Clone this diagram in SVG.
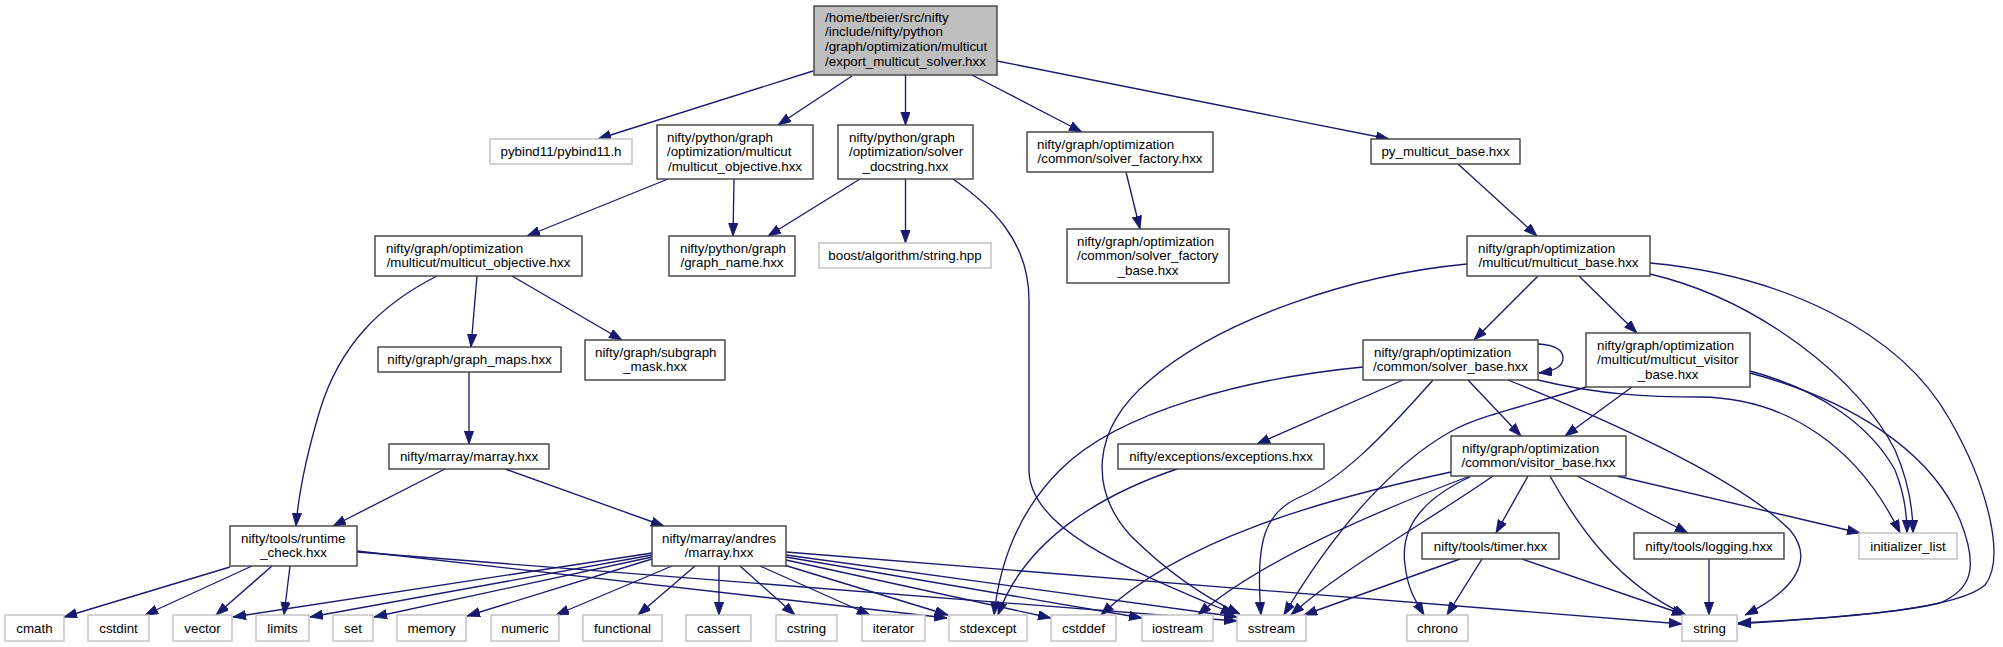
<svg xmlns="http://www.w3.org/2000/svg" width="2003" height="647" viewBox="0 0 2003 647">
<defs>
<marker id="a" markerUnits="userSpaceOnUse" markerWidth="14" markerHeight="10" refX="13" refY="4.7" orient="auto"><path d="M0,0 L13,4.7 L0,9.4 z" fill="#191970" stroke="#191970" stroke-width="0.8"/></marker>
<style>
text{font-family:"Liberation Sans",Arial,Helvetica,sans-serif;font-size:13.33px;fill:#000}
.m{text-anchor:middle}
.n rect{fill:#fff;stroke:#404040;stroke-width:1.4}
.g rect{fill:#fff;stroke:#bfbfbf;stroke-width:1.4}
.r rect{fill:#bfbfbf;stroke:#404040;stroke-width:1.4}
#edges path{fill:none;stroke:#191970;stroke-width:1.33;marker-end:url(#a)}
</style>
</defs>
<rect width="2003" height="647" fill="#fff"/>
<g id="edges">
<path d="M813,71 L598,139"/>
<path d="M852,76 L778,125"/>
<path d="M905.5,75 L905.5,125"/>
<path d="M972,75 L1082,132"/>
<path d="M997,61 L1389,139"/>
<path d="M668,179 L527,236"/>
<path d="M734,179 L733,236"/>
<path d="M860,179 L768,236"/>
<path d="M905.5,179 L905.5,243"/>
<path d="M953,179 C990,205 1029,240 1029,300 L1029,470 C1029,530 1130,570 1234,614"/>
<path d="M1126,172 L1140,229"/>
<path d="M1458,164 L1537,236"/>
<path d="M477,276 L471,347"/>
<path d="M512,276 L622,340"/>
<path d="M437,276 C380,305 340,345 320,410 C305,460 298,500 296,526"/>
<path d="M469,372 L469,444"/>
<path d="M445,469 L333,526"/>
<path d="M505,469 L664,526"/>
<path d="M1538,276 L1474,340"/>
<path d="M1579,276 L1637,333"/>
<path d="M1467,264 C1350,275 1220,320 1150,380 C1090,430 1090,490 1130,535 C1165,570 1200,595 1240,614"/>
<path d="M1650,274 C1760,300 1860,380 1895,450 C1908,480 1913,505 1913,533"/>
<path d="M1650,263 C1780,275 1900,330 1950,420 C1990,490 2005,560 1985,585 C1955,612 1820,618 1738,624"/>
<path d="M230,567 L64,617"/>
<path d="M252,566 L145,615"/>
<path d="M272,566 L216,615"/>
<path d="M290,566 L284,615"/>
<path d="M357,551 L947,618"/>
<path d="M357,552 L1237,621"/>
<path d="M652,553 L233,617"/>
<path d="M652,555 L310,617"/>
<path d="M652,557 L374,617"/>
<path d="M652,559 L467,616"/>
<path d="M672,566 L556,615"/>
<path d="M695,566 L638,615"/>
<path d="M719,566 L719,615"/>
<path d="M740,566 L795,615"/>
<path d="M760,566 L870,615"/>
<path d="M784,565 L948,615"/>
<path d="M786,560 L1051,618"/>
<path d="M786,557 L1142,618"/>
<path d="M786,555 L1237,617"/>
<path d="M786,552 L1682,624"/>
<path d="M1538,344 C1556,345 1563,351 1563,358 C1563,366 1556,371 1539,373"/>
<path d="M1403,380 L1257,444"/>
<path d="M1363,367 C1250,378 1120,410 1060,470 C1020,510 1000,560 994,615"/>
<path d="M1433,380 C1380,440 1340,480 1300,497 C1265,512 1255,540 1261,615"/>
<path d="M1468,380 L1521,436"/>
<path d="M1508,380 C1620,425 1740,480 1790,530 C1815,560 1795,590 1745,615"/>
<path d="M1538,380 C1600,395 1650,397 1700,397 C1790,398 1860,450 1900,533"/>
<path d="M1177,469 C1100,495 1025,540 998,615"/>
<path d="M1632,387 L1565,436"/>
<path d="M1586,387 C1530,405 1480,415 1450,432 C1400,460 1340,520 1284,615"/>
<path d="M1750,371 C1820,390 1870,425 1895,470 C1905,495 1907,515 1907,533"/>
<path d="M1750,373 C1850,400 1930,450 1960,520 C1980,570 1970,590 1940,603 C1890,615 1800,620 1738,623"/>
<path d="M1528,476 L1496,533"/>
<path d="M1577,476 L1688,533"/>
<path d="M1550,476 C1580,530 1620,585 1686,615"/>
<path d="M1617,476 L1860,533"/>
<path d="M1470,477 C1420,500 1400,530 1405,565 C1408,590 1415,600 1424,615"/>
<path d="M1493,476 C1430,520 1340,570 1291,615"/>
<path d="M1470,476 C1380,510 1260,560 1198,615"/>
<path d="M1451,472 C1320,500 1180,540 1101,615"/>
<path d="M1460,559 L1304,615"/>
<path d="M1482,559 L1447,615"/>
<path d="M1522,559 L1685,615"/>
<path d="M1709,559 L1709,615"/>
</g>
<g id="root" class="r"><rect x="814" y="6" width="183" height="69"/><text x="825" y="21.5">/home/tbeier/src/nifty</text><text x="825" y="36">/include/nifty/python</text><text x="825" y="51">/graph/optimization/multicut</text><text class="m" x="905.5" y="65.5">/export_multicut_solver.hxx</text></g>
<g id="pybind11" class="g"><rect x="490" y="139" width="142" height="25"/><text class="m" x="561" y="156">pybind11/pybind11.h</text></g>
<g id="py_multicut_objective" class="n"><rect x="657" y="125" width="156" height="54"/><text x="667" y="141.5">nifty/python/graph</text><text x="667" y="156">/optimization/multicut</text><text class="m" x="735" y="170.5">/multicut_objective.hxx</text></g>
<g id="solver_docstring" class="n"><rect x="838" y="125" width="135" height="54"/><text x="849" y="141.5">nifty/python/graph</text><text x="849" y="156">/optimization/solver</text><text class="m" x="905.5" y="170.5">_docstring.hxx</text></g>
<g id="solver_factory" class="n"><rect x="1027" y="132" width="186" height="40"/><text x="1037" y="148.5">nifty/graph/optimization</text><text class="m" x="1120" y="163">/common/solver_factory.hxx</text></g>
<g id="py_multicut_base" class="n"><rect x="1371" y="139" width="149" height="25"/><text class="m" x="1445.5" y="156">py_multicut_base.hxx</text></g>
<g id="graph_name" class="n"><rect x="669" y="236" width="126" height="40"/><text x="680" y="252.5">nifty/python/graph</text><text class="m" x="732" y="267">/graph_name.hxx</text></g>
<g id="boost_string" class="g"><rect x="819" y="243" width="172" height="25"/><text class="m" x="905" y="260">boost/algorithm/string.hpp</text></g>
<g id="multicut_objective" class="n"><rect x="375" y="236" width="207" height="40"/><text x="386" y="252.5">nifty/graph/optimization</text><text class="m" x="478.5" y="267">/multicut/multicut_objective.hxx</text></g>
<g id="solver_factory_base" class="n"><rect x="1067" y="229" width="162" height="54"/><text x="1077" y="245.5">nifty/graph/optimization</text><text x="1077" y="260">/common/solver_factory</text><text class="m" x="1148" y="274.5">_base.hxx</text></g>
<g id="multicut_base" class="n"><rect x="1467" y="236" width="183" height="40"/><text x="1478" y="252.5">nifty/graph/optimization</text><text class="m" x="1558.5" y="267">/multicut/multicut_base.hxx</text></g>
<g id="graph_maps" class="n"><rect x="378" y="347" width="183" height="25"/><text class="m" x="469.5" y="364">nifty/graph/graph_maps.hxx</text></g>
<g id="subgraph_mask" class="n"><rect x="585" y="340" width="140" height="40"/><text x="595" y="356.5">nifty/graph/subgraph</text><text class="m" x="655" y="371">_mask.hxx</text></g>
<g id="marray" class="n"><rect x="389" y="444" width="160" height="25"/><text class="m" x="469" y="461">nifty/marray/marray.hxx</text></g>
<g id="exceptions" class="n"><rect x="1118" y="444" width="206" height="25"/><text class="m" x="1221" y="461">nifty/exceptions/exceptions.hxx</text></g>
<g id="solver_base" class="n"><rect x="1363" y="340" width="175" height="40"/><text x="1374" y="356.5">nifty/graph/optimization</text><text class="m" x="1450.5" y="371">/common/solver_base.hxx</text></g>
<g id="multicut_visitor_base" class="n"><rect x="1586" y="333" width="164" height="54"/><text x="1597" y="349.5">nifty/graph/optimization</text><text x="1597" y="364">/multicut/multicut_visitor</text><text class="m" x="1668" y="378.5">_base.hxx</text></g>
<g id="visitor_base" class="n"><rect x="1451" y="436" width="175" height="40"/><text x="1462" y="452.5">nifty/graph/optimization</text><text class="m" x="1538.5" y="467">/common/visitor_base.hxx</text></g>
<g id="runtime_check" class="n"><rect x="230" y="526" width="127" height="40"/><text x="241" y="542.5">nifty/tools/runtime</text><text class="m" x="293.5" y="557">_check.hxx</text></g>
<g id="andres_marray" class="n"><rect x="652" y="526" width="134" height="40"/><text x="662" y="542.5">nifty/marray/andres</text><text class="m" x="719" y="557">/marray.hxx</text></g>
<g id="timer" class="n"><rect x="1422" y="533" width="137" height="26"/><text class="m" x="1490.5" y="550.5">nifty/tools/timer.hxx</text></g>
<g id="logging" class="n"><rect x="1634" y="533" width="150" height="26"/><text class="m" x="1709" y="550.5">nifty/tools/logging.hxx</text></g>
<g id="initializer_list" class="g"><rect x="1859" y="533" width="98" height="26"/><text class="m" x="1908" y="550.5">initializer_list</text></g>
<g id="cmath" class="g"><rect x="5" y="615" width="59" height="26"/><text class="m" x="34.5" y="632.5">cmath</text></g>
<g id="cstdint" class="g"><rect x="88" y="615" width="61" height="26"/><text class="m" x="118.5" y="632.5">cstdint</text></g>
<g id="vector" class="g"><rect x="173" y="615" width="59" height="26"/><text class="m" x="202.5" y="632.5">vector</text></g>
<g id="limits" class="g"><rect x="256" y="615" width="53" height="26"/><text class="m" x="282.5" y="632.5">limits</text></g>
<g id="set" class="g"><rect x="333" y="615" width="40" height="26"/><text class="m" x="353" y="632.5">set</text></g>
<g id="memory" class="g"><rect x="397" y="615" width="69" height="26"/><text class="m" x="431.5" y="632.5">memory</text></g>
<g id="numeric" class="g"><rect x="491" y="615" width="68" height="26"/><text class="m" x="525" y="632.5">numeric</text></g>
<g id="functional" class="g"><rect x="583" y="615" width="79" height="26"/><text class="m" x="622.5" y="632.5">functional</text></g>
<g id="cassert" class="g"><rect x="686" y="615" width="65" height="26"/><text class="m" x="718.5" y="632.5">cassert</text></g>
<g id="cstring" class="g"><rect x="776" y="615" width="61" height="26"/><text class="m" x="806.5" y="632.5">cstring</text></g>
<g id="iterator" class="g"><rect x="862" y="615" width="63" height="26"/><text class="m" x="893.5" y="632.5">iterator</text></g>
<g id="stdexcept" class="g"><rect x="949" y="615" width="78" height="26"/><text class="m" x="988" y="632.5">stdexcept</text></g>
<g id="cstddef" class="g"><rect x="1051" y="615" width="65" height="26"/><text class="m" x="1083.5" y="632.5">cstddef</text></g>
<g id="iostream" class="g"><rect x="1142" y="615" width="71" height="26"/><text class="m" x="1177.5" y="632.5">iostream</text></g>
<g id="sstream" class="g"><rect x="1237" y="615" width="69" height="26"/><text class="m" x="1271.5" y="632.5">sstream</text></g>
<g id="chrono" class="g"><rect x="1407" y="615" width="61" height="26"/><text class="m" x="1437.5" y="632.5">chrono</text></g>
<g id="string" class="g"><rect x="1682" y="615" width="55" height="26"/><text class="m" x="1709.5" y="632.5">string</text></g>
</svg>
